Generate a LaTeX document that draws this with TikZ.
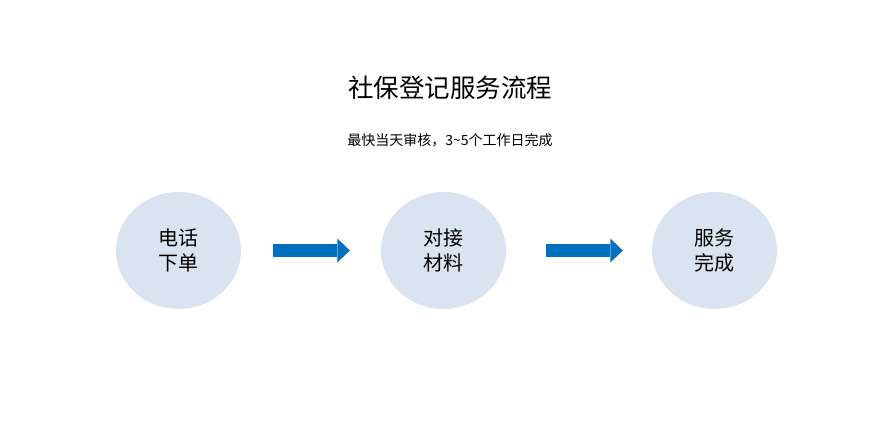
\documentclass[tikz,border=0pt]{standalone}
\usepackage{fontspec}
\setmainfont{Noto Sans CJK SC}
\usetikzlibrary{arrows.meta,shapes.geometric}
\definecolor{stepfill}{HTML}{DAE3F0}
\definecolor{flowblue}{HTML}{0070C0}

\begin{document}
\begin{tikzpicture}[x=1pt,y=-1pt,
		stepnode/.style={fill=stepfill,ellipse,inner sep=0pt,minimum width=125pt,minimum height=117pt,align=center,font=\fontsize{20}{25}\selectfont},
		flow/.style={color=flowblue,line width=12.4pt,-{Triangle[length=12.5pt,width=24pt,line width=0pt]}}]
			\useasboundingbox (0,0) rectangle (895,425);
			
			\node (title) at (450,88) {\fontsize{25.5}{30}\selectfont 社保登记服务流程};
			\node (sub) at (450,140) {\fontsize{14}{16}\selectfont 最快当天审核，3\textasciitilde5个工作日完成};
			
			\node[stepnode] (1) at (178.5,250.5) {电话\\下单};
			\node[stepnode] (2) at (443.5,250.5) {对接\\材料};
			\node[stepnode] (3) at (714.5,250.5) {服务\\完成};
			
			\path[flow] (1) edge[shorten <=32pt,shorten >=31pt] (2);
			\path[flow] (2) edge[shorten <=40pt,shorten >=29pt] (3);
		\end{tikzpicture}
\end{document}
